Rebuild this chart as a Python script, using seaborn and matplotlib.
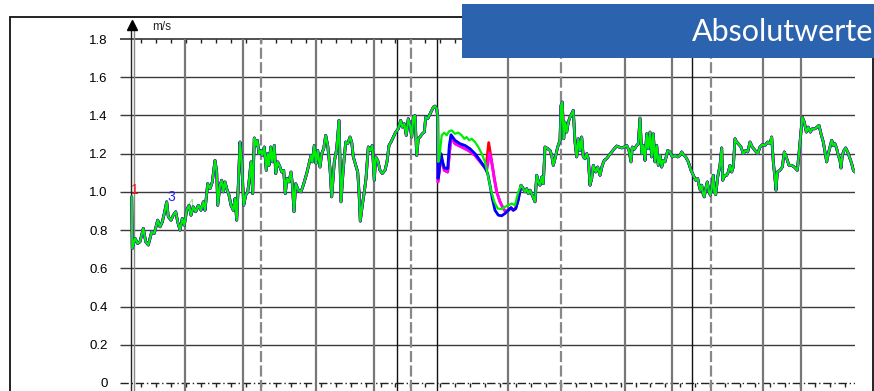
import matplotlib
matplotlib.use("Agg")
import matplotlib.pyplot as plt
import numpy as np
import pandas as pd
import seaborn as sns
from matplotlib.lines import Line2D
from matplotlib.patches import Rectangle

sns.set_style("white")
plt.rcParams["font.family"] = ["Liberation Sans", "DejaVu Sans"]

# ---- speed trace shared by all four sensors (before the split) ----
x_head = [-1.3, -0.7, 2.0, 4.7, 7.0, 10.3, 12.7, 15.3, 18.7, 21.3, 24.7, 27.0, 29.3, 31.3,
          33.7, 35.3, 38.0, 40.3, 42.7, 44.7, 47.0, 49.3, 51.3, 53.7, 56.0, 58.0, 60.3,
          62.7, 65.3, 68.0, 70.3, 72.0, 74.7, 77.0, 79.3, 82.0, 83.7, 84.7, 87.0, 88.7,
          90.3, 92.0, 93.7, 96.0, 98.0, 100.3, 102.0, 103.7, 105.3, 107.0, 108.7, 110.7,
          112.7, 114.7, 116.0, 118.0, 119.7, 121.3, 122.7, 124.3, 126.0, 128.0, 129.3,
          131.3, 133.3, 134.7, 136.0, 137.7, 139.3, 141.3, 142.7, 144.7, 147.0, 148.7,
          150.7, 152.3, 154.0, 156.0, 158.0, 159.3, 161.0, 162.7, 165.3, 168.0, 170.3,
          173.7, 178.0, 179.3, 181.3, 183.0, 184.7, 187.0, 188.7, 190.7, 192.7, 194.7,
          197.0, 198.7, 201.3, 203.7, 206.0, 208.0, 210.3, 212.7, 214.7, 217.0, 218.7,
          220.3, 222.7, 224.7, 226.0, 227.3, 229.3, 231.3, 233.0, 235.3, 237.3, 239.3,
          241.3, 242.7, 244.7, 247.0, 249.3, 252.0, 254.0, 256.0, 258.0, 260.3, 262.7,
          265.3, 267.7, 269.3, 271.3, 273.3, 275.3, 277.0, 278.7, 280.3, 282.0, 283.7,
          285.3, 287.0, 289.3, 291.3, 292.7, 294.7, 296.3, 298.7, 300.3, 302.0, 303.7,
          304.7]
v_head = [0.974, 0.704, 0.757, 0.730, 0.739, 0.809, 0.739, 0.722, 0.791, 0.783, 0.852, 0.817,
          0.843, 0.887, 0.948, 0.870, 0.852, 0.878, 0.896, 0.843, 0.800, 0.861, 0.826, 0.904,
          0.930, 0.878, 0.922, 0.896, 0.930, 0.904, 0.948, 0.904, 1.043, 1.017, 1.052, 1.165,
          1.104, 0.930, 1.035, 1.061, 1.000, 1.052, 1.017, 0.983, 0.930, 0.904, 0.965, 0.852,
          1.035, 1.261, 1.157, 0.930, 0.983, 1.000, 1.052, 1.157, 0.991, 1.282, 1.243, 1.270,
          1.200, 1.217, 1.191, 1.235, 1.113, 1.200, 1.139, 1.235, 1.157, 1.243, 1.096, 1.157,
          1.130, 1.104, 1.113, 0.991, 1.070, 1.052, 1.104, 1.043, 0.896, 1.043, 1.009, 1.000,
          1.035, 1.096, 1.191, 1.157, 1.243, 1.148, 1.217, 1.130, 1.200, 1.226, 1.296, 1.243,
          1.122, 0.974, 1.157, 1.226, 1.374, 0.948, 1.122, 1.261, 1.252, 1.287, 1.261, 1.183,
          1.139, 1.104, 1.000, 0.847, 0.930, 1.000, 1.070, 1.235, 1.217, 1.243, 1.061, 1.183,
          1.165, 1.113, 1.096, 1.113, 1.157, 1.243, 1.261, 1.287, 1.313, 1.330, 1.374, 1.339,
          1.357, 1.296, 1.383, 1.348, 1.287, 1.391, 1.400, 1.191, 1.278, 1.287, 1.304, 1.313,
          1.391, 1.383, 1.400, 1.426, 1.443, 1.449, 1.435, 1.391]

# ---- section where the sensors disagree ----
x_red = [305.0, 308.0, 311.3, 314.7, 318.0, 322.0, 328.7, 335.3, 342.0, 348.7, 352.7,
         354.3, 355.7, 357.3, 359.3, 361.3, 363.7, 367.0, 370.3, 372.7, 375.3, 378.0,
         380.3, 382.7, 385.3]
v_red = [1.052, 1.183, 1.113, 1.104, 1.287, 1.252, 1.235, 1.217, 1.191, 1.148, 1.122,
         1.190, 1.258, 1.205, 1.139, 1.070, 1.000, 0.948, 0.913, 0.896, 0.904, 0.917,
         0.904, 0.913, 0.965]

x_magenta = [305.0, 308.0, 311.3, 314.7, 318.0, 322.0, 328.7, 335.3, 342.0, 348.7, 353.7,
             355.3, 356.3, 358.0, 359.3, 361.3, 363.7, 367.0, 370.3, 372.7, 375.3, 378.0,
             380.3, 382.7, 385.3]
v_magenta = [1.052, 1.183, 1.113, 1.104, 1.287, 1.252, 1.235, 1.217, 1.191, 1.148, 1.113,
             1.160, 1.205, 1.175, 1.139, 1.070, 1.000, 0.948, 0.913, 0.896, 0.904, 0.917,
             0.904, 0.913, 0.965]

x_blue = [305.0, 306.0, 308.0, 309.7, 311.3, 314.7, 316.3, 318.0, 322.0, 327.0, 332.0,
          337.0, 342.0, 347.0, 352.0, 354.7, 357.0, 359.3, 362.0, 365.3, 368.7, 372.0,
          375.3, 378.0, 380.3, 382.7, 385.3]
v_blue = [1.070, 1.104, 1.200, 1.157, 1.125, 1.122, 1.243, 1.299, 1.270, 1.252, 1.243,
          1.226, 1.200, 1.165, 1.126, 1.096, 1.035, 0.965, 0.904, 0.878, 0.875, 0.887,
          0.904, 0.917, 0.904, 0.913, 0.957]

x_green = [305.3, 306.3, 308.7, 311.3, 313.7, 316.0, 318.7, 322.0, 325.3, 328.7, 331.3,
           333.7, 336.0, 338.7, 342.0, 345.3, 348.7, 352.0, 355.3, 358.0, 361.3, 364.7,
           368.7, 372.0, 375.3, 378.7, 382.0, 383.7, 385.3]
v_green = [1.157, 1.174, 1.296, 1.310, 1.296, 1.317, 1.322, 1.304, 1.310, 1.296, 1.278,
           1.287, 1.270, 1.278, 1.261, 1.235, 1.200, 1.157, 1.078, 1.009, 0.948, 0.913,
           0.910, 0.922, 0.930, 0.939, 0.930, 0.965, 1.000]

# ---- shared trace after the sensors agree again ----
x_tail = [388.0, 390.3, 392.0, 393.7, 395.3, 397.0, 399.3, 402.0, 403.7, 405.3, 407.0,
          408.7, 410.3, 412.0, 414.7, 417.0, 418.7, 420.3, 422.0, 424.7, 427.0, 428.0,
          429.3, 430.7, 432.0, 433.7, 435.3, 437.0, 438.7, 440.3, 442.0, 443.7, 445.3,
          447.0, 448.7, 450.3, 452.0, 453.7, 455.3, 457.0, 458.7, 460.3, 462.7, 464.7,
          467.0, 469.3, 471.3, 473.7, 476.0, 478.7, 481.3, 483.7, 486.0, 488.7, 491.3,
          493.7, 496.0, 498.0, 499.3, 501.3, 503.7, 505.3, 507.0, 508.7, 510.3, 512.0,
          513.7, 515.3, 517.0, 518.7, 520.3, 522.0, 523.7, 525.3, 527.0, 528.7, 530.3,
          532.0, 534.7, 537.0, 539.3, 542.0, 544.7, 547.0, 548.7, 550.3, 552.7, 555.3,
          558.0, 560.3, 562.7, 564.7, 566.0, 567.3, 568.7, 570.0, 571.3, 572.7, 574.3,
          576.0, 577.3, 578.7, 580.3, 581.3, 582.7, 584.7, 587.0, 588.7, 589.7, 592.0,
          593.7, 595.3, 597.0, 598.7, 600.3, 602.0, 603.7, 605.3, 608.0, 610.3, 612.7,
          614.7, 617.0, 619.3, 622.0, 624.7, 627.0, 629.3, 632.0, 634.7, 637.0, 638.7,
          640.3, 642.0, 643.0, 644.3, 647.0, 649.3, 651.3, 652.7, 654.3, 656.0, 658.7,
          661.3, 664.3, 666.0, 668.0, 669.3, 671.3, 673.3, 675.3, 677.3, 679.3, 682.0,
          684.0, 686.0, 688.0, 690.3, 692.0, 693.7, 695.3, 697.0, 698.7, 700.3, 702.0,
          703.7, 705.3, 707.0, 708.0, 709.3, 711.0, 712.7, 714.7, 717.0, 718.7, 720.3,
          722.0]
v_tail = [1.035, 1.017, 1.000, 1.017, 0.991, 1.009, 0.983, 0.948, 1.087, 1.052, 1.035,
          1.078, 1.043, 1.235, 1.226, 1.217, 1.191, 1.139, 1.174, 1.235, 1.270, 1.452,
          1.470, 1.278, 1.365, 1.313, 1.365, 1.391, 1.409, 1.426, 1.261, 1.183, 1.278,
          1.217, 1.287, 1.183, 1.174, 1.200, 1.174, 1.035, 1.070, 1.139, 1.104, 1.130,
          1.087, 1.139, 1.165, 1.174, 1.191, 1.209, 1.226, 1.240, 1.235, 1.230, 1.235,
          1.243, 1.217, 1.157, 1.235, 1.223, 1.243, 1.252, 1.386, 1.200, 1.243, 1.165,
          1.304, 1.226, 1.313, 1.183, 1.304, 1.157, 1.243, 1.139, 1.191, 1.130, 1.165,
          1.157, 1.217, 1.209, 1.183, 1.191, 1.183, 1.191, 1.209, 1.195, 1.183, 1.157,
          1.113, 1.087, 1.061, 1.070, 1.035, 1.009, 1.035, 0.991, 0.974, 1.017, 1.052,
          1.000, 0.983, 1.017, 1.087, 1.000, 0.986, 1.078, 1.139, 1.230, 1.061, 1.087,
          1.087, 1.104, 1.139, 1.104, 1.130, 1.278, 1.261, 1.252, 1.235, 1.200, 1.217,
          1.209, 1.261, 1.235, 1.217, 1.200, 1.235, 1.247, 1.243, 1.261, 1.252, 1.287,
          1.157, 1.070, 1.009, 1.104, 1.113, 1.130, 1.209, 1.191, 1.165, 1.139, 1.139,
          1.130, 1.113, 1.200, 1.313, 1.391, 1.365, 1.313, 1.339, 1.313, 1.330, 1.330,
          1.339, 1.348, 1.304, 1.261, 1.209, 1.157, 1.200, 1.235, 1.270, 1.243, 1.252,
          1.226, 1.191, 1.165, 1.125, 1.191, 1.217, 1.230, 1.209, 1.174, 1.148, 1.113,
          1.104]

# event markers along the run
marks_gray = [51.5, 109.7, 183.0, 241.3, 374.7, 491.5, 539.3, 629.7, 668.5]
marks_black = [264.3, 303.7, 559.3]
marks_dashed = [127.7, 278.0, 428.0, 578.0]

y_ticks = [0, 0.2, 0.4, 0.6, 0.8, 1.0, 1.2, 1.4, 1.6, 1.8]
y_labels = ["0", "0.2", "0.4", "0.6", "0.8", "1.0", "1.2", "1.4", "1.6", "1.8"]

series_names = ["1", "2", "3", "4"]
series_colors = ["#ff0000", "#ff00ff", "#0000ff", "#00ee00"]
split_x = [x_red, x_magenta, x_blue, x_green]
split_v = [v_red, v_magenta, v_blue, v_green]

frames = []
for name, xs, vs in zip(series_names, split_x, split_v):
    frames.append(pd.DataFrame({
        "s": x_head + xs + x_tail,
        "v": v_head + vs + v_tail,
        "sensor": name,
    }))
df = pd.concat(frames, ignore_index=True)

X_MIN, X_MAX = -13, 722
PX = 191.1  # pixels per m/s
fig = plt.figure(figsize=(8.74, 3.91), dpi=100)
ax = fig.add_axes([120 / 874, 0, 735 / 874, 371 / 391])
ax.set_xlim(X_MIN, X_MAX)
ax.set_ylim(-8 / PX, 1.8 + 19 / PX)
for sp in ax.spines.values():
    sp.set_visible(False)

# horizontal grid
ax.hlines(y_ticks[1:-1], X_MIN, X_MAX, color="#3a3a3a", lw=1.0, zorder=1)
ax.hlines([1.8], X_MIN, X_MAX, color="#222222", lw=1.1, zorder=1)
ax.plot([X_MIN, X_MAX], [0, 0], color="#222222", lw=1.0, ls=(0, (6, 2, 1, 2)), zorder=1)
tick_pos = [7.5 + 15 * k for k in range(48)]
ax.vlines(tick_pos, -4 / PX, 0, color="#222222", lw=1.0, zorder=1)
ax.vlines(tick_pos, 1.8 - 4 / PX, 1.8, color="#222222", lw=1.0, zorder=1)

# vertical event markers
y_lo = -8 / PX
ax.vlines(marks_gray, y_lo, 1.8, color="#777777", lw=1.6, zorder=1)
ax.vlines(marks_black, y_lo, 1.8, color="#111111", lw=1.0, zorder=1)
ax.vlines(marks_dashed, y_lo, 1.8, color="#888888", lw=1.6, ls=(0, (5, 1.5)), zorder=1)

# y axis with arrow
ax.vlines([-2.3], y_lo, 1.875, color="#222222", lw=1.0, zorder=2, clip_on=False)
ax.vlines([0.7], y_lo, 1.875, color="#888888", lw=1.0, zorder=2, clip_on=False)
ax.plot([-0.8], [1.872], marker="^", ms=7, color="black", clip_on=False, zorder=3)
ax.text(19, 1.863, "m/s", fontsize=8.5, va="center", ha="left")

# series labels
ax.text(2, 1.008, "1", color="#ff1010", fontsize=10, ha="center", va="center", zorder=2)
ax.text(38.7, 0.971, "3", color="#2020ff", fontsize=10, ha="center", va="center", zorder=2)
ax.text(57.3, 0.934, "4", color="#90e890", fontsize=10, ha="center", va="center", zorder=2)

widths = [2.0, 2.0, 2.0, 1.6]
for i, (name, color) in enumerate(zip(series_names, series_colors)):
    sub = df[df["sensor"] == name]
    sns.lineplot(data=sub, x="s", y="v", color=color, lw=widths[i], estimator=None,
                 sort=False, legend=False, ax=ax, zorder=4 + i)

ax.set_xticks([])
ax.set_yticks(y_ticks)
ax.set_yticklabels(y_labels)
ax.tick_params(axis="y", length=0, pad=9, labelsize=9.5, labelcolor="black")
ax.set_xlabel("")
ax.set_ylabel("")

# outer frame
frame_kw = dict(color="#222222", lw=1.4, transform=fig.transFigure)
fig.add_artist(Line2D([10 / 874, 873 / 874], [1 - 17 / 391] * 2, **frame_kw))
fig.add_artist(Line2D([10 / 874] * 2, [0, 1 - 17 / 391], **frame_kw))
fig.add_artist(Line2D([873 / 874] * 2, [0, 1 - 17 / 391], **frame_kw))

# title banner
fig.add_artist(Rectangle((462 / 874, 1 - 58 / 391), 412 / 874, 54 / 391,
                         transform=fig.transFigure, facecolor="#2c63ae",
                         edgecolor="none", zorder=10))
fig.text(0.999, 1 - 32 / 391, "Absolutwerte", color="white", fontsize=22,
         family=["Lato", "DejaVu Sans"], ha="right", va="center", zorder=11)

fig.savefig("out.png", dpi=100)
